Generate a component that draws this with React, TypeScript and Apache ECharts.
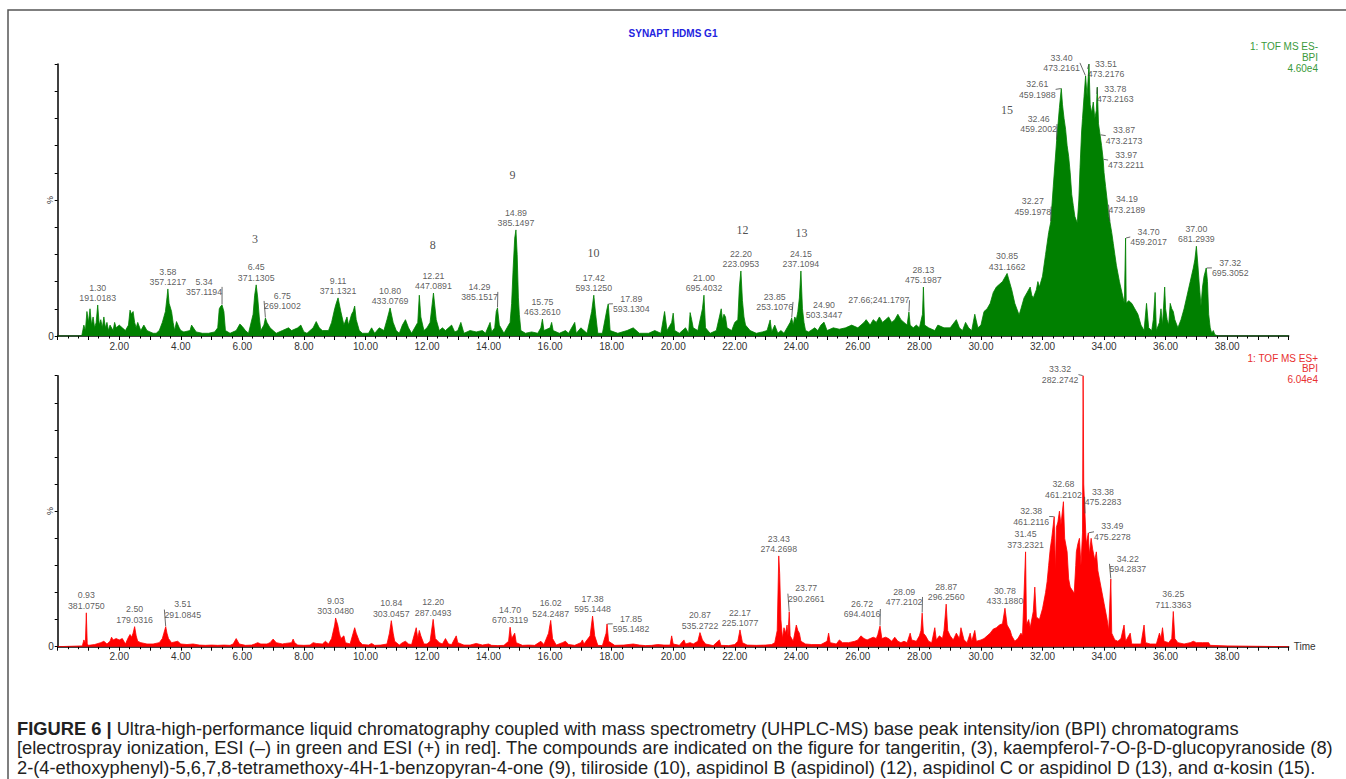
import React, { useEffect, useRef } from "react";
import * as echarts from "echarts";

// ---- ESI (-) base peak intensity trace: [time (min), % of 4.60e4] ----
const negTrace: [number, number][] = [
  [0, 0], [0.78, 0], [0.85, 4], [0.9, 2], [0.95, 9], [1.0, 5], [1.05, 10], [1.1, 4], [1.15, 7], [1.2, 3],
  [1.25, 5], [1.3, 11.4], [1.35, 4], [1.4, 6], [1.45, 3], [1.5, 7], [1.55, 3], [1.6, 5], [1.65, 2], [1.7, 4],
  [1.8, 2], [1.85, 5], [1.9, 3], [2.0, 4], [2.1, 3], [2.2, 2], [2.3, 4], [2.35, 9.5], [2.4, 8], [2.45, 9],
  [2.5, 5], [2.55, 3], [2.6, 5], [2.7, 2], [2.8, 4], [2.9, 2], [3.0, 1.5], [3.1, 1], [3.2, 1], [3.3, 2],
  [3.4, 5], [3.5, 9], [3.55, 14], [3.58, 17.3], [3.62, 12], [3.7, 9], [3.75, 5], [3.8, 2], [3.86, 5.3], [3.95, 3],
  [4.0, 2], [4.1, 1.5], [4.3, 2], [4.35, 4], [4.5, 1.5], [4.7, 1], [4.9, 1], [5.1, 1.5], [5.2, 3], [5.25, 10],
  [5.3, 11], [5.34, 11.4], [5.4, 9], [5.45, 2], [5.6, 1], [5.8, 2], [5.92, 4.4], [6.0, 3.5], [6.1, 2], [6.2, 1],
  [6.35, 8], [6.4, 15], [6.45, 18.8], [6.5, 14], [6.55, 7], [6.6, 2], [6.7, 4], [6.75, 6.6], [6.8, 5], [6.9, 3],
  [7.0, 2], [7.1, 1], [7.3, 2], [7.5, 3], [7.6, 2], [7.8, 3], [7.9, 4], [8.0, 1.5], [8.1, 1], [8.3, 3],
  [8.4, 5.3], [8.5, 3], [8.6, 2], [8.8, 2], [8.9, 5], [9.0, 10], [9.05, 12], [9.11, 14], [9.2, 9], [9.3, 4],
  [9.4, 7], [9.45, 4], [9.55, 8], [9.6, 9], [9.65, 11], [9.7, 6], [9.8, 2], [9.9, 1], [10.1, 1], [10.2, 3],
  [10.3, 1], [10.45, 3], [10.6, 2], [10.7, 6], [10.8, 10.3], [10.9, 5], [11.0, 2], [11.1, 1], [11.2, 4], [11.3, 6],
  [11.4, 3], [11.5, 1], [11.6, 3], [11.7, 5], [11.75, 15], [11.8, 7], [11.9, 2], [12.0, 3], [12.1, 5], [12.21, 15.8],
  [12.3, 6], [12.4, 2], [12.5, 3], [12.6, 2], [12.8, 4], [12.9, 1.5], [13.0, 2], [13.1, 5], [13.2, 1], [13.4, 2],
  [13.6, 1.5], [13.8, 2], [13.9, 1], [14.05, 5], [14.1, 1.5], [14.2, 3], [14.25, 9], [14.29, 10.3], [14.35, 4], [14.5, 1],
  [14.7, 5], [14.75, 12], [14.8, 25], [14.85, 36], [14.89, 39], [14.93, 30], [14.97, 14], [15.0, 8], [15.05, 2], [15.2, 1],
  [15.4, 1.5], [15.6, 1], [15.7, 3], [15.75, 6.2], [15.8, 2], [16.0, 3], [16.05, 5], [16.1, 2], [16.3, 1], [16.5, 2],
  [16.6, 1], [16.8, 5], [16.85, 1], [17.0, 3], [17.2, 1], [17.35, 9], [17.42, 15], [17.48, 8], [17.55, 1], [17.7, 1],
  [17.85, 10], [17.89, 11.8], [17.95, 2], [18.2, 1], [18.5, 2], [18.7, 3], [18.9, 1], [19.2, 1], [19.4, 2], [19.6, 1],
  [19.72, 9], [19.8, 2], [19.95, 5], [20.0, 8.4], [20.05, 2], [20.2, 1], [20.4, 3], [20.5, 1], [20.55, 8.6], [20.6, 6],
  [20.65, 3], [20.8, 2], [20.95, 10], [21.0, 15], [21.05, 3], [21.2, 1], [21.4, 2], [21.5, 7], [21.56, 10], [21.6, 6],
  [21.65, 8], [21.7, 7], [21.75, 3], [21.9, 2], [22.0, 5], [22.1, 6], [22.15, 18], [22.2, 23.9], [22.25, 13], [22.3, 7],
  [22.35, 4], [22.5, 2], [22.7, 1], [22.9, 1.5], [23.05, 2], [23.15, 5.9], [23.2, 1.5], [23.3, 4], [23.4, 1], [23.5, 2],
  [23.6, 1], [23.7, 3], [23.8, 5], [23.85, 6.6], [23.9, 4], [23.95, 7], [24.0, 6], [24.05, 9], [24.1, 14], [24.15, 23.9],
  [24.2, 10], [24.25, 5], [24.3, 2], [24.4, 1.5], [24.6, 3], [24.7, 2], [24.8, 4], [24.9, 5.1], [25.0, 2], [25.2, 3],
  [25.4, 2.5], [25.6, 3], [25.8, 4], [26.0, 3], [26.2, 5], [26.27, 6], [26.4, 4], [26.5, 6], [26.6, 5], [26.7, 7],
  [26.8, 5], [26.9, 6], [27.0, 7], [27.1, 5], [27.2, 6], [27.3, 8], [27.4, 6], [27.5, 5], [27.6, 4], [27.66, 8.8],
  [27.7, 4], [27.8, 3], [27.9, 4], [28.0, 3], [28.1, 8], [28.13, 18], [28.17, 4], [28.3, 3], [28.5, 2], [28.6, 4],
  [28.8, 3], [29.0, 3], [29.2, 6], [29.3, 3], [29.4, 2], [29.5, 5], [29.6, 3], [29.7, 2], [29.8, 8], [29.9, 3],
  [30.0, 4], [30.1, 9], [30.2, 10], [30.3, 12], [30.4, 16], [30.5, 18], [30.6, 19], [30.7, 20], [30.8, 22], [30.85, 23],
  [30.9, 21], [31.0, 17], [31.1, 12], [31.24, 7.7], [31.3, 10], [31.4, 14], [31.5, 16], [31.6, 18], [31.65, 15], [31.7, 14],
  [31.8, 17], [31.85, 20], [31.9, 18], [32.0, 22], [32.1, 30], [32.2, 38], [32.27, 42], [32.35, 55], [32.46, 72], [32.55, 84],
  [32.61, 91], [32.65, 85], [32.7, 80], [32.75, 76], [32.8, 70], [32.85, 66], [32.9, 60], [32.95, 52], [33.0, 48], [33.05, 44],
  [33.13, 41.5], [33.18, 50], [33.22, 62], [33.27, 75], [33.3, 80], [33.35, 88], [33.4, 95.6], [33.45, 88], [33.51, 100], [33.55, 85],
  [33.6, 82], [33.65, 86], [33.7, 80], [33.75, 83], [33.78, 91.5], [33.82, 78], [33.87, 74], [33.92, 70], [33.97, 65], [34.0, 60],
  [34.05, 55], [34.1, 50], [34.15, 44], [34.19, 42], [34.25, 38], [34.3, 34], [34.35, 30], [34.4, 26], [34.5, 20], [34.6, 15],
  [34.66, 12], [34.7, 36], [34.72, 12], [34.8, 13], [34.9, 12], [35.0, 10], [35.1, 8], [35.2, 4], [35.3, 2], [35.38, 12],
  [35.45, 3], [35.55, 2], [35.6, 6], [35.66, 16], [35.7, 2], [35.8, 5], [35.85, 10], [35.9, 4], [35.97, 18], [36.0, 10],
  [36.05, 6], [36.1, 4], [36.15, 12], [36.2, 10], [36.25, 9], [36.3, 6], [36.4, 3], [36.5, 6], [36.6, 10], [36.7, 15],
  [36.8, 20], [36.9, 25], [36.95, 28], [37.0, 33], [37.05, 26], [37.1, 18], [37.15, 11], [37.2, 18], [37.25, 22], [37.32, 25],
  [37.36, 20], [37.4, 8], [37.45, 3], [37.5, 1], [37.55, 2], [37.6, 0.5], [37.7, 0], [40, 0],
];

// ---- ESI (+) base peak intensity trace: [time (min), % of 6.04e4] ----
const posTrace: [number, number][] = [
  [0, 0], [0.8, 0.3], [0.85, 2.5], [0.9, 1.5], [0.93, 12.5], [0.96, 1], [1.0, 0.5], [1.2, 0.8], [1.4, 1.5], [1.5, 2],
  [1.6, 1], [1.7, 2], [1.75, 3.5], [1.8, 2.5], [1.9, 3], [2.0, 2.5], [2.1, 3], [2.2, 1], [2.3, 3.5], [2.35, 4.5],
  [2.4, 3.5], [2.45, 5], [2.5, 7.4], [2.55, 4], [2.6, 2], [2.7, 1.5], [2.9, 1], [3.1, 1], [3.3, 1.5], [3.4, 3],
  [3.45, 5], [3.51, 7.4], [3.55, 5], [3.6, 3], [3.7, 1.5], [3.9, 2], [4.0, 1], [4.2, 0.8], [4.4, 1], [4.6, 0.6],
  [4.8, 0.5], [5.0, 0.6], [5.2, 0.5], [5.4, 0.6], [5.6, 0.5], [5.7, 1], [5.8, 3], [5.85, 2], [5.9, 1], [6.1, 0.5],
  [6.3, 0.6], [6.4, 1], [6.5, 1.5], [6.6, 1], [6.8, 1], [6.9, 1.5], [7.0, 2.8], [7.1, 1.5], [7.3, 1], [7.4, 1.2],
  [7.6, 1.5], [7.65, 2.8], [7.7, 1.5], [7.8, 0.6], [8.0, 0.5], [8.2, 0.6], [8.3, 1.5], [8.4, 1.2], [8.6, 1], [8.7, 2],
  [8.8, 1], [8.9, 3], [9.0, 8], [9.03, 10.6], [9.1, 8], [9.15, 5], [9.2, 3], [9.3, 4], [9.35, 1.5], [9.5, 1],
  [9.6, 5], [9.65, 7], [9.7, 5], [9.75, 3.5], [9.8, 2], [9.9, 0.8], [10.1, 0.6], [10.2, 1.2], [10.3, 0.5], [10.5, 0.6],
  [10.7, 1], [10.78, 5], [10.84, 9.6], [10.9, 5], [10.95, 2], [11.1, 0.6], [11.2, 1.5], [11.3, 2], [11.4, 1], [11.5, 0.8],
  [11.65, 7], [11.7, 3], [11.75, 6], [11.8, 4], [11.9, 1], [12.0, 1], [12.1, 2], [12.2, 10.1], [12.27, 3], [12.4, 1.5],
  [12.5, 1], [12.6, 3], [12.7, 1], [12.8, 0.8], [12.95, 4], [13.0, 1.5], [13.2, 0.6], [13.4, 0.6], [13.6, 1.2], [13.8, 0.6],
  [14.0, 1], [14.1, 0.5], [14.3, 0.4], [14.5, 0.5], [14.65, 2], [14.7, 7.2], [14.75, 3], [14.85, 5], [14.9, 1.5], [15.1, 0.5],
  [15.3, 0.6], [15.5, 0.5], [15.7, 2], [15.8, 0.8], [15.95, 5], [16.02, 9.7], [16.08, 3], [16.2, 0.6], [16.4, 1.5], [16.5, 2],
  [16.6, 0.8], [16.8, 0.5], [17.0, 1.5], [17.05, 2.5], [17.1, 1], [17.3, 4], [17.38, 11.3], [17.45, 4], [17.55, 0.5], [17.7, 0.4],
  [17.82, 5], [17.85, 8.4], [17.9, 2], [18.1, 0.5], [18.4, 0.6], [18.7, 1], [18.9, 0.6], [19.1, 0.4], [19.3, 0.5], [19.5, 0.8],
  [19.7, 0.6], [19.9, 0.6], [19.95, 4], [20.0, 1], [20.2, 0.5], [20.35, 2.5], [20.4, 1], [20.55, 1.5], [20.65, 1], [20.8, 2],
  [20.87, 5.2], [20.95, 2.5], [21.05, 1], [21.3, 0.4], [21.5, 2.5], [21.55, 0.5], [21.8, 0.4], [22.0, 0.8], [22.1, 2], [22.17, 6.2],
  [22.25, 1.5], [22.4, 0.6], [22.7, 0.5], [23.0, 0.6], [23.2, 0.8], [23.3, 1.5], [23.38, 6], [23.43, 33.5], [23.46, 27], [23.5, 10],
  [23.55, 3], [23.6, 7], [23.65, 5], [23.7, 8], [23.73, 4], [23.77, 12.9], [23.8, 4], [23.9, 2], [24.0, 8], [24.05, 6],
  [24.1, 5], [24.15, 2], [24.3, 1], [24.5, 0.8], [24.8, 0.8], [25.0, 2], [25.05, 5], [25.1, 1.5], [25.3, 1], [25.4, 2.5],
  [25.5, 1.5], [25.7, 1.5], [25.9, 2], [26.0, 2.5], [26.1, 4], [26.2, 3], [26.3, 2.5], [26.4, 3], [26.5, 3.5], [26.6, 3],
  [26.65, 4.5], [26.72, 7.6], [26.78, 3], [26.9, 3.5], [27.0, 3], [27.1, 2], [27.2, 3.5], [27.3, 2], [27.4, 1.5], [27.5, 2],
  [27.6, 1.5], [27.7, 5], [27.75, 2.5], [27.9, 2], [28.0, 4], [28.05, 6], [28.09, 12.4], [28.13, 5], [28.2, 4], [28.3, 2],
  [28.4, 1.5], [28.5, 7], [28.55, 2.5], [28.65, 4], [28.75, 3], [28.8, 6], [28.87, 15.7], [28.92, 6], [29.0, 4], [29.1, 2.5],
  [29.2, 5], [29.3, 3], [29.35, 7], [29.45, 2.5], [29.55, 1.5], [29.65, 5], [29.7, 2], [29.8, 6], [29.85, 2], [30.0, 2.5],
  [30.1, 3], [30.2, 4], [30.3, 5], [30.4, 6.5], [30.5, 7], [30.6, 8], [30.7, 8.5], [30.78, 14.2], [30.85, 8], [30.95, 6],
  [31.0, 4], [31.1, 2], [31.2, 3], [31.3, 5], [31.35, 4], [31.45, 35], [31.48, 8], [31.55, 10], [31.6, 7], [31.7, 13],
  [31.75, 22], [31.8, 11], [31.9, 10], [32.0, 14], [32.1, 20], [32.15, 24], [32.2, 30], [32.25, 36], [32.3, 40], [32.35, 45],
  [32.38, 48], [32.42, 28], [32.45, 44], [32.5, 46], [32.55, 50], [32.6, 45], [32.68, 53.5], [32.72, 40], [32.8, 35], [32.85, 25],
  [32.9, 22], [33.03, 19.7], [33.08, 30], [33.1, 35], [33.15, 38], [33.2, 40], [33.25, 30], [33.3, 42], [33.32, 100], [33.34, 60],
  [33.38, 49], [33.42, 38], [33.49, 42], [33.52, 34], [33.58, 40], [33.63, 36], [33.7, 32], [33.75, 35], [33.8, 28], [33.9, 22],
  [34.0, 16], [34.1, 10], [34.15, 6], [34.22, 25], [34.25, 5], [34.35, 2.5], [34.45, 2], [34.55, 3], [34.65, 8], [34.7, 2],
  [34.85, 5], [34.9, 1], [35.0, 1], [35.2, 1], [35.3, 8], [35.35, 1.5], [35.5, 1], [35.7, 1], [35.8, 5], [35.85, 3],
  [35.9, 7], [35.95, 2], [36.1, 1.5], [36.2, 3], [36.25, 13], [36.3, 3], [36.4, 1.5], [36.6, 1], [36.8, 1.5], [36.9, 2],
  [37.0, 1.5], [37.2, 1.5], [37.4, 1.5], [37.45, 0.5], [38.0, 0.3], [40, 0],
];

// ---- labelled peaks: [retention time, m/z, intensity %] ----
const negPeaks: [number, string, number][] = [
  [1.30, "191.0183", 11.4], [3.58, "357.1217", 17.3], [5.34, "357.1194", 11.4], [6.45, "371.1305", 18.8],
  [6.75, "269.1002", 6.6], [9.11, "371.1321", 14], [10.80, "433.0769", 10.3], [12.21, "447.0891", 15.8],
  [14.29, "385.1517", 10.3], [14.89, "385.1497", 39], [15.75, "463.2610", 6.2], [17.42, "593.1250", 15],
  [17.89, "593.1304", 11.8], [21.00, "695.4032", 15], [22.20, "223.0953", 23.9], [23.85, "253.1076", 6.6],
  [24.15, "237.1094", 23.9], [24.90, "503.3447", 5.1], [27.66, "241.1797", 8.8], [28.13, "475.1987", 18],
  [30.85, "431.1662", 23], [32.27, "459.1978", 42], [32.46, "459.2002", 72], [32.61, "459.1988", 91],
  [33.40, "473.2161", 95.6], [33.51, "473.2176", 100], [33.78, "473.2163", 91.5], [33.87, "473.2173", 74],
  [33.97, "473.2211", 65], [34.19, "473.2189", 42], [34.70, "459.2017", 36], [37.00, "681.2939", 33],
  [37.32, "695.3052", 25],
];

const posPeaks: [number, string, number][] = [
  [0.93, "381.0750", 12.5], [2.50, "179.0316", 7.4], [3.51, "291.0845", 7.4], [9.03, "303.0480", 10.6],
  [10.84, "303.0457", 9.6], [12.20, "287.0493", 10.1], [14.70, "670.3119", 7.2], [16.02, "524.2487", 9.7],
  [17.38, "595.1448", 11.3], [17.85, "595.1482", 8.4], [20.87, "535.2722", 5.2], [22.17, "225.1077", 6.2],
  [23.43, "274.2698", 33.5], [23.77, "290.2661", 12.9], [26.72, "694.4016", 7.6], [28.09, "477.2102", 12.4],
  [28.87, "296.2560", 15.7], [30.78, "433.1880", 14.2], [31.45, "373.2321", 35], [32.38, "461.2116", 48],
  [32.68, "461.2102", 53.5], [33.32, "282.2742", 100], [33.38, "475.2283", 49], [33.49, "475.2278", 42],
  [34.22, "594.2837", 25], [36.25, "711.3363", 13],
];

// compound numbers marked on the ESI(-) trace: [time, level %, number]
const compounds: [number, number, string][] = [
  [6.41, 35.7, "3"], [12.19, 33.5, "8"], [14.78, 59.2, "9"], [17.41, 30.5, "10"],
  [22.25, 39, "12"], [24.17, 37.9, "13"], [30.85, 83, "15"],
];

const singleLineLabels = ["27.66"];

// label shifts (px) for labels drawn beside their peak, with a leader line
const negShift: Record<string, [number, number]> = {
  "5.34": [-18, -6], "6.75": [17, -5], "14.29": [-18, -4], "17.89": [23, 12], "23.85": [-17, -4],
  "27.66": [-30, -5], "32.27": [-18, -3], "32.46": [-18, -4], "32.61": [-24, 13], "33.40": [-24, -1],
  "33.51": [17, 17], "33.78": [18, 19], "33.87": [24, 13], "33.97": [23, 13], "34.19": [17, -5],
  "34.70": [23, 11], "37.32": [24, 12],
};
const posShift: Record<string, [number, number]> = {
  "3.51": [17, -5], "17.85": [24, 12], "23.77": [17, -6], "26.72": [-18, -5], "28.09": [-18, -4],
  "32.38": [-23, 12], "33.32": [-23, 11], "33.38": [18, -5], "33.49": [24, 11], "34.22": [17, -3],
};

const captionLines = [
  "{b|FIGURE 6 |} Ultra-high-performance liquid chromatography coupled with mass spectrometry (UHPLC-MS) base peak intensity/ion (BPI) chromatograms",
  "[electrospray ionization, ESI (–) in green and ESI (+) in red]. The compounds are indicated on the figure for tangeritin, (3), kaempferol-7-O-β-D-glucopyranoside (8)",
  "2-(4-ethoxyphenyl)-5,6,7,8-tetramethoxy-4H-1-benzopyran-4-one (9), tiliroside (10), aspidinol B (aspidinol) (12), aspidinol C or aspidinol D (13), and α-kosin (15).",
];

const GREEN = "#008000";
const RED = "#ff0000";
const FONT = "'Liberation Sans', Arial, sans-serif";

function peakSeries(peaks: [number, string, number][], shift: Record<string, [number, number]>, axis: number) {
  return {
    type: "scatter",
    xAxisIndex: axis,
    yAxisIndex: axis,
    symbolSize: 1,
    itemStyle: { color: "rgba(0,0,0,0)" },
    z: 5,
    data: peaks.map(([rt, mz, h]) => {
      const key = rt.toFixed(2);
      return {
        value: [rt, h],
        name: singleLineLabels.includes(key) ? `${key};${mz}` : `${key}\n${mz}`,
        labelLine: { show: !!shift[key] },
      };
    }),
    label: {
      show: true,
      position: "top",
      distance: 1,
      formatter: (p: any) => p.name,
      fontSize: 8.8,
      lineHeight: 10.6,
      color: "#333",
      fontFamily: FONT,
    },
    labelLine: { show: false, lineStyle: { color: "#444", width: 0.8 } },
    labelLayout: (params: any) => {
      const key = peaks[params.dataIndex][0].toFixed(2);
      const s = shift[key];
      return s ? { dx: s[0], dy: s[1] } : {};
    },
  };
}

function xAxisCfg(grid: number, withName: boolean) {
  return {
    type: "value",
    gridIndex: grid,
    min: 0,
    max: 40,
    interval: 1,
    name: withName ? "Time" : "",
    nameLocation: "end",
    nameGap: 5,
    nameTextStyle: { fontSize: 10, color: "#333", fontFamily: FONT, verticalAlign: "middle" },
    axisLine: { show: true, onZero: false, lineStyle: { color: "#000", width: 1.5 } },
    axisTick: { show: true, length: 4, lineStyle: { color: "#000", width: 1 } },
    minorTick: { show: true, splitNumber: 3, length: 2.5, lineStyle: { color: "#000", width: 1 } },
    axisLabel: {
      fontSize: 10,
      color: "#333",
      fontFamily: FONT,
      margin: 5,
      formatter: (v: number) => (v > 0 && v < 40 && v % 2 === 0 ? v.toFixed(2) : ""),
    },
    splitLine: { show: false },
    minorSplitLine: { show: false },
  };
}

function yAxisCfg(grid: number) {
  return {
    type: "value",
    gridIndex: grid,
    min: 0,
    max: 100,
    interval: 10,
    axisLine: { show: true, lineStyle: { color: "#000", width: 1.5 } },
    axisTick: { show: true, length: 3, lineStyle: { color: "#000", width: 1 } },
    axisLabel: {
      fontSize: 10,
      color: "#333",
      fontFamily: FONT,
      margin: 4,
      formatter: (v: number) => (v === 0 ? "0" : ""),
    },
    splitLine: { show: false },
  };
}

export default function App() {
  const ref = useRef<HTMLDivElement>(null);
  useEffect(() => {
    if (!ref.current) return;
    const chart = echarts.init(ref.current, null, { renderer: "svg" });
    const rightText = (y: number, text: string, color: string) => ({
      type: "text",
      x: 1318,
      y,
      style: { text, fill: color, font: `10px ${FONT}`, textAlign: "right", textVerticalAlign: "middle" },
    });
    chart.setOption({
      animation: false,
      backgroundColor: "#fff",
      grid: [
        { left: 57.7, top: 64, width: 1231, height: 272 },
        { left: 57.7, top: 375.7, width: 1231, height: 271 },
      ],
      xAxis: [xAxisCfg(0, false), xAxisCfg(1, true)],
      yAxis: [yAxisCfg(0), yAxisCfg(1)],
      series: [
        {
          type: "line",
          xAxisIndex: 0,
          yAxisIndex: 0,
          data: negTrace,
          showSymbol: false,
          symbol: "none",
          lineStyle: { color: GREEN, width: 0.8 },
          areaStyle: { color: GREEN, opacity: 1 },
          z: 2,
        },
        {
          type: "line",
          xAxisIndex: 1,
          yAxisIndex: 1,
          data: posTrace,
          showSymbol: false,
          symbol: "none",
          lineStyle: { color: RED, width: 0.8 },
          areaStyle: { color: RED, opacity: 1 },
          z: 2,
        },
        peakSeries(negPeaks, negShift, 0),
        peakSeries(posPeaks, posShift, 1),
        {
          type: "scatter",
          xAxisIndex: 0,
          yAxisIndex: 0,
          symbolSize: 1,
          itemStyle: { color: "rgba(0,0,0,0)" },
          data: compounds.map(([t, lv, n]) => ({ value: [t, lv], name: n })),
          label: {
            show: true,
            position: "inside",
            formatter: (p: any) => p.name,
            fontSize: 12,
            color: "#222",
            fontFamily: "'Liberation Serif', 'Times New Roman', serif",
          },
        },
      ],
      graphic: [
        {
          type: "rect",
          shape: { x: 8, y: 10, width: 1400, height: 820 },
          style: { fill: "none", stroke: "#555", lineWidth: 1.5 },
          silent: true,
        },
        {
          type: "text",
          x: 673,
          y: 33,
          style: {
            text: "SYNAPT HDMS G1",
            fill: "#2323e0",
            font: `bold 10px ${FONT}`,
            textAlign: "center",
            textVerticalAlign: "middle",
          },
        },
        rightText(46.5, "1: TOF MS ES-", "#3a9a3a"),
        rightText(57.3, "BPI", "#3a9a3a"),
        rightText(68.1, "4.60e4", "#3a9a3a"),
        rightText(358, "1: TOF MS ES+", "#e83030"),
        rightText(368.8, "BPI", "#e83030"),
        rightText(379.6, "6.04e4", "#e83030"),
        {
          type: "text",
          x: 50,
          y: 200,
          rotation: Math.PI / 2,
          style: { text: "%", fill: "#333", font: `9px ${FONT}`, textAlign: "center", textVerticalAlign: "middle" },
        },
        {
          type: "text",
          x: 50,
          y: 511,
          rotation: Math.PI / 2,
          style: { text: "%", fill: "#333", font: `9px ${FONT}`, textAlign: "center", textVerticalAlign: "middle" },
        },
        ...captionLines.map((line, i) => ({
          type: "text",
          x: 17,
          y: 729 + i * 19.5,
          scaleX: 1.04,
          style: {
            text: line,
            fill: "#222",
            font: `17.6px ${FONT}`,
            textVerticalAlign: "middle",
            rich: { b: { fontWeight: "bold", fontSize: 17.6, fontFamily: FONT, fill: "#222" } },
          },
        })),
      ],
    });
    return () => chart.dispose();
  }, []);
  return (
    <div
      ref={ref}
      style={{ position: "fixed", left: 0, top: 0, width: 1346, height: 779, background: "#fff" }}
    />
  );
}
